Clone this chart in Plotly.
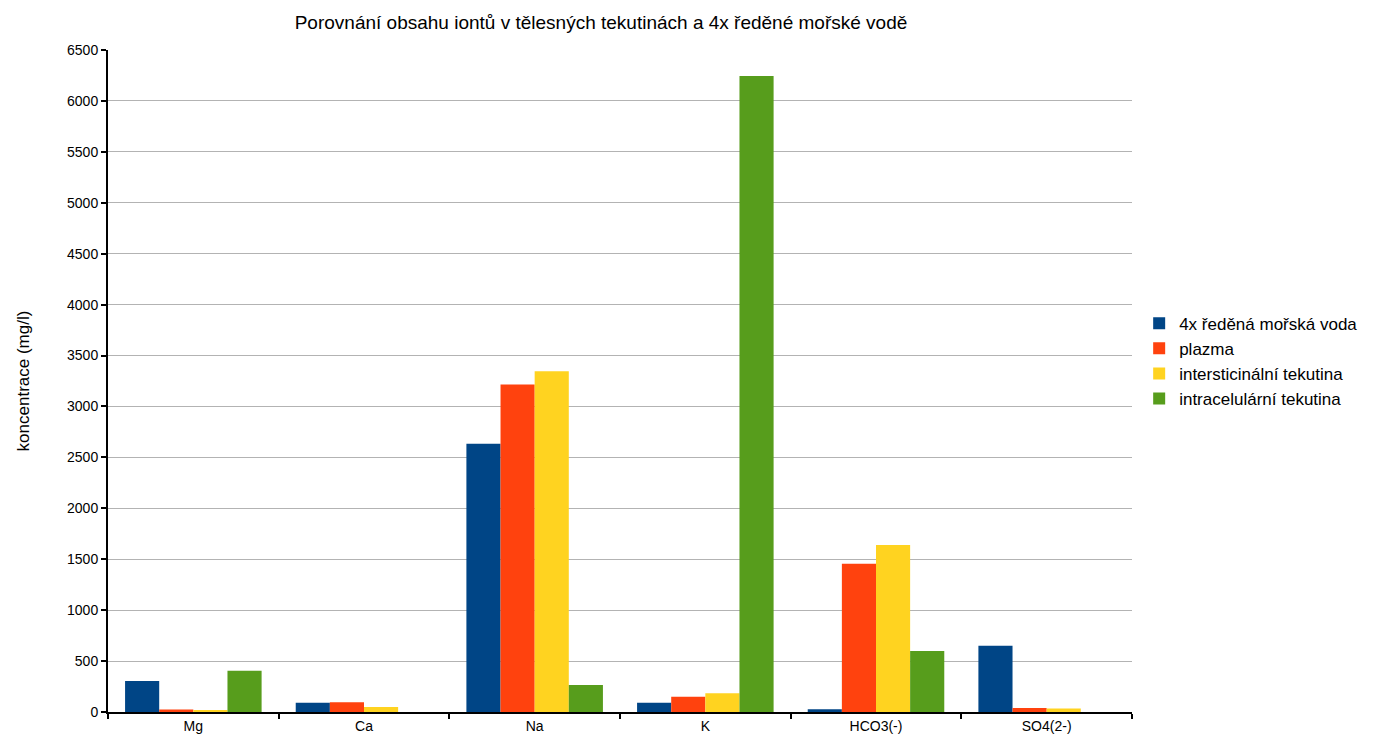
import plotly.graph_objects as go

# Ion concentrations (mg/l) in body fluids vs. 4x diluted seawater
ions = ["Mg", "Ca", "Na", "K", "HCO3(-)", "SO4(2-)"]
seawater_4x = [305, 90, 2635, 90, 28, 650]
plasma = [24, 95, 3215, 150, 1455, 40]
interstitial = [20, 50, 3345, 185, 1640, 35]
intracellular = [405, 0, 265, 6245, 600, 0]

series_names = [
    "4x ředěná mořská voda",
    "plazma",
    "intersticinální tekutina",
    "intracelulární tekutina",
]
series_colors = ["#004586", "#ff420e", "#ffd320", "#579d1c"]

fig = go.Figure()
for name, vals, color in zip(series_names,
                             [seawater_4x, plasma, interstitial, intracellular],
                             series_colors):
    fig.add_trace(go.Bar(x=ions, y=vals, name=name,
                         marker=dict(color=color, line=dict(width=0))))

fig.update_layout(
    width=1386, height=740,
    barmode="group", bargap=0.2, bargroupgap=0,
    plot_bgcolor="white", paper_bgcolor="white",
    font=dict(family="Liberation Sans, Arial, sans-serif", color="#000000"),
    margin=dict(l=108, r=254, t=50, b=28),
    title=dict(text="Porovnání obsahu iontů v tělesných tekutinách a 4x ředěné mořské vodě",
               x=601 / 1386, xanchor="center", y=0.97, yanchor="middle",
               font=dict(size=19)),
    legend=dict(x=1.007, xanchor="left", y=0.53, yanchor="middle",
                font=dict(size=17), tracegroupgap=0, itemwidth=30,
                bgcolor="rgba(0,0,0,0)"),
    showlegend=True,
)

fig.update_xaxes(
    showline=True, linecolor="black", linewidth=2,
    ticks="outside", tickson="boundaries", ticklen=5, tickwidth=2, tickcolor="black",
    tickfont=dict(size=14), showgrid=False, automargin=False,
)
fig.update_yaxes(
    range=[0, 6500], dtick=500,
    showline=True, linecolor="black", linewidth=2,
    ticks="outside", ticklen=5, tickwidth=2, tickcolor="black",
    showgrid=True, gridcolor="#b3b3b3", gridwidth=1,
    tickfont=dict(size=14), zeroline=False, automargin=False,
    title=dict(text="koncentrace (mg/l)", font=dict(size=17), standoff=33),
)

fig.write_html("out.html")
